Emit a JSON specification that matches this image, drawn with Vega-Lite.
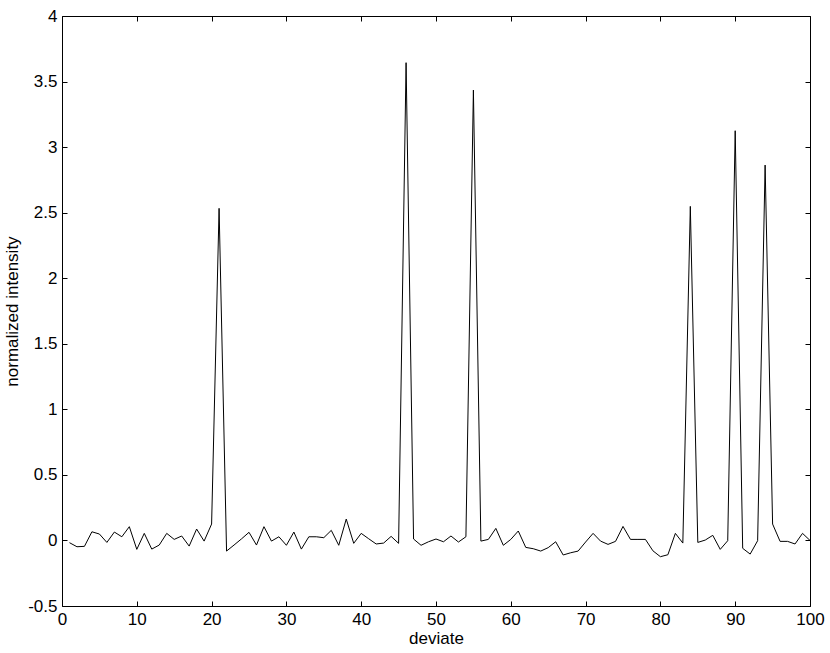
{
  "$schema": "https://vega.github.io/schema/vega-lite/v6.json",
  "width": 748,
  "height": 590,
  "autosize": {"type": "none"},
  "padding": {"left": 62, "top": 16, "right": 20, "bottom": 47},
  "background": "white",
  "config": {
    "view": {"stroke": null},
    "font": "Liberation Sans",
    "axis": {
      "grid": false,
      "domainColor": "black",
      "domainWidth": 1,
      "tickColor": "black",
      "tickSize": -5,
      "tickWidth": 1,
      "labelColor": "black",
      "labelFont": "Liberation Sans",
      "labelFontSize": 17,
      "labelFlush": false,
      "labelOverlap": false,
      "titleFont": "Liberation Sans",
      "titleFontSize": 17,
      "titleFontWeight": "normal",
      "titleColor": "black"
    }
  },
  "data": {
    "values": [
      {"x": 1, "y": -0.017}, {"x": 2, "y": -0.048}, {"x": 3, "y": -0.045}, {"x": 4, "y": 0.066},
      {"x": 5, "y": 0.049}, {"x": 6, "y": -0.015}, {"x": 7, "y": 0.064}, {"x": 8, "y": 0.028},
      {"x": 9, "y": 0.105}, {"x": 10, "y": -0.068}, {"x": 11, "y": 0.054}, {"x": 12, "y": -0.066},
      {"x": 13, "y": -0.035}, {"x": 14, "y": 0.054}, {"x": 15, "y": 0.008}, {"x": 16, "y": 0.034},
      {"x": 17, "y": -0.043}, {"x": 18, "y": 0.087}, {"x": 19, "y": -0.005}, {"x": 20, "y": 0.125},
      {"x": 21, "y": 2.533}, {"x": 22, "y": -0.081}, {"x": 23, "y": -0.035}, {"x": 24, "y": 0.012},
      {"x": 25, "y": 0.062}, {"x": 26, "y": -0.035}, {"x": 27, "y": 0.105}, {"x": 28, "y": -0.005},
      {"x": 29, "y": 0.028}, {"x": 30, "y": -0.037}, {"x": 31, "y": 0.064}, {"x": 32, "y": -0.066},
      {"x": 33, "y": 0.028}, {"x": 34, "y": 0.028}, {"x": 35, "y": 0.021}, {"x": 36, "y": 0.077},
      {"x": 37, "y": -0.037}, {"x": 38, "y": 0.163}, {"x": 39, "y": -0.022}, {"x": 40, "y": 0.054},
      {"x": 41, "y": 0.013}, {"x": 42, "y": -0.027}, {"x": 43, "y": -0.02}, {"x": 44, "y": 0.031},
      {"x": 45, "y": -0.022}, {"x": 46, "y": 3.644}, {"x": 47, "y": 0.011}, {"x": 48, "y": -0.037},
      {"x": 49, "y": -0.01}, {"x": 50, "y": 0.011}, {"x": 51, "y": -0.01}, {"x": 52, "y": 0.034},
      {"x": 53, "y": -0.012}, {"x": 54, "y": 0.028}, {"x": 55, "y": 3.435}, {"x": 56, "y": -0.005},
      {"x": 57, "y": 0.008}, {"x": 58, "y": 0.092}, {"x": 59, "y": -0.037}, {"x": 60, "y": 0.008},
      {"x": 61, "y": 0.072}, {"x": 62, "y": -0.053}, {"x": 63, "y": -0.063}, {"x": 64, "y": -0.081},
      {"x": 65, "y": -0.055}, {"x": 66, "y": -0.01}, {"x": 67, "y": -0.111}, {"x": 68, "y": -0.094},
      {"x": 69, "y": -0.081}, {"x": 70, "y": -0.012}, {"x": 71, "y": 0.054}, {"x": 72, "y": -0.005},
      {"x": 73, "y": -0.03}, {"x": 74, "y": -0.007}, {"x": 75, "y": 0.107}, {"x": 76, "y": 0.008},
      {"x": 77, "y": 0.008}, {"x": 78, "y": 0.008}, {"x": 79, "y": -0.079}, {"x": 80, "y": -0.124},
      {"x": 81, "y": -0.109}, {"x": 82, "y": 0.054}, {"x": 83, "y": -0.02}, {"x": 84, "y": 2.548},
      {"x": 85, "y": -0.015}, {"x": 86, "y": 0.003}, {"x": 87, "y": 0.039}, {"x": 88, "y": -0.068},
      {"x": 89, "y": -0.002}, {"x": 90, "y": 3.125}, {"x": 91, "y": -0.06}, {"x": 92, "y": -0.104},
      {"x": 93, "y": -0.002}, {"x": 94, "y": 2.863}, {"x": 95, "y": 0.125}, {"x": 96, "y": -0.007},
      {"x": 97, "y": -0.007}, {"x": 98, "y": -0.027}, {"x": 99, "y": 0.054}, {"x": 100, "y": 0.0}
    ]
  },
  "layer": [
    {
      "mark": {"type": "line", "color": "black", "strokeWidth": 1},
      "encoding": {
        "x": {
          "field": "x", "type": "quantitative",
          "scale": {"domain": [0, 100], "nice": false, "zero": false},
          "axis": {"title": "deviate", "values": [0,10,20,30,40,50,60,70,80,90,100], "labelExpr": "'' + datum.value", "labelPadding": 10, "titlePadding": 3}
        },
        "y": {
          "field": "y", "type": "quantitative",
          "scale": {"domain": [-0.5, 4], "nice": false, "zero": false},
          "axis": {"title": "normalized intensity", "values": [-0.5,0,0.5,1,1.5,2,2.5,3,3.5,4], "labelExpr": "'' + datum.value", "labelPadding": 10, "titlePadding": 6}
        }
      }
    },
    {
      "mark": {"type": "line", "opacity": 0},
      "encoding": {
        "x": {
          "field": "x", "type": "quantitative",
          "axis": {"orient": "top", "title": null, "labels": false, "values": [0,10,20,30,40,50,60,70,80,90,100]}
        },
        "y": {
          "field": "y", "type": "quantitative",
          "axis": {"orient": "right", "title": null, "labels": false, "values": [-0.5,0,0.5,1,1.5,2,2.5,3,3.5,4]}
        }
      }
    }
  ],
  "resolve": {"axis": {"x": "independent", "y": "independent"}}
}
